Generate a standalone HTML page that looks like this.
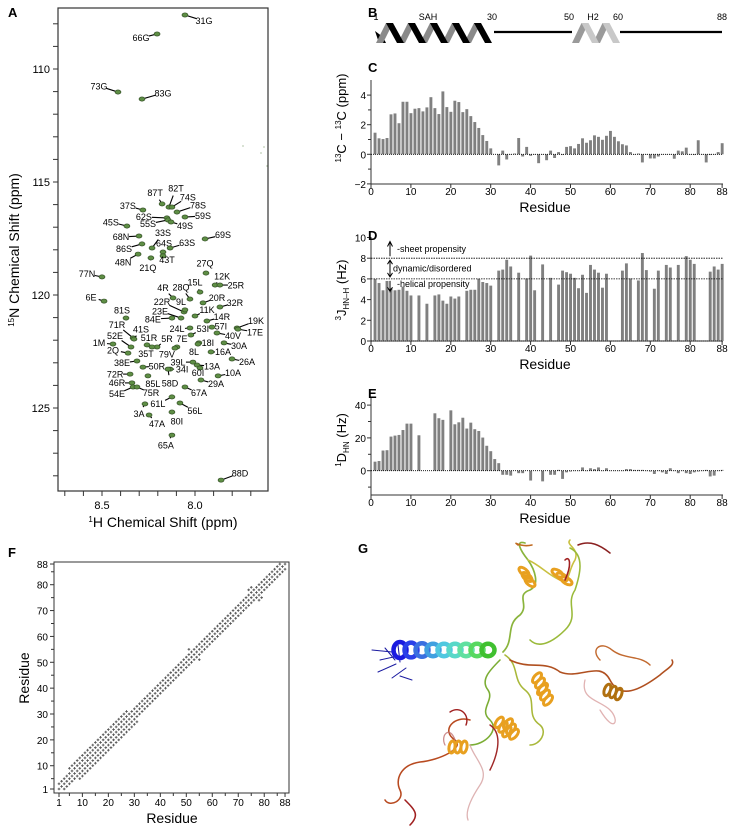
<!DOCTYPE html>
<html><head><meta charset="utf-8"><style>
html,body{margin:0;padding:0;background:#fff;}
svg{display:block;font-family:"Liberation Sans",Arial,sans-serif;}
</style></head><body>
<svg id="fig" width="729" height="829" viewBox="0 0 729 829" xmlns="http://www.w3.org/2000/svg">
<g id="panelA"></g>
<g id="panelB"></g>
<g id="panelC"></g>
<g id="panelD"></g>
<g id="panelE"></g>
<g id="panelF"></g>
<g id="panelG"></g>
</svg>
<script>
// ---------- DATA ----------
const residues = Array.from({length:88},(_,i)=>i+1);
const shiftValues = [1.46,1.08,1.03,1.1,2.7,2.76,2.1,3.55,3.55,2.78,3.08,3.12,2.9,3.17,3.86,3.12,2.72,4.25,3.19,2.87,3.62,3.53,2.85,3.05,2.58,2.18,1.78,1.3,0.9,0.4,null,-0.75,0.25,-0.35,0,0.05,1.1,-0.15,0.5,-0.1,0,-0.6,0,-0.4,0.25,-0.25,0.15,-0.05,0.5,0.55,0.4,0.7,1.08,0.78,0.95,1.28,1.18,0.98,1.25,1.58,1.18,0.88,0.68,0.6,0.15,0,0.05,-0.55,0,-0.28,-0.28,-0.15,0,0,0,-0.3,0.25,0.2,0.45,0,-0.05,0.95,0,-0.55,-0.05,0,0.15,0.75];
const jValues = [6.0,5.6,4.9,5.8,5.1,4.9,4.95,5.25,4.85,4.4,null,4.4,null,3.6,null,4.4,4.5,3.9,3.6,4.3,4.1,4.3,null,4.85,4.95,4.95,6.0,5.7,5.6,5.35,null,6.8,6.9,7.85,7.2,null,6.6,null,6.05,8.25,4.9,null,7.4,null,6.1,null,5.45,6.8,6.65,6.5,6.1,5.1,6.4,4.65,7.35,6.9,6.6,5.15,6.5,null,null,null,6.8,7.5,6.05,null,5.85,8.5,6.85,null,5.05,6.8,null,7.35,7.1,null,7.35,null,8.2,7.85,7.45,null,null,null,6.7,7.2,6.9,7.45];
const rdcValues = [5.5,5.9,12.3,12.5,20.8,21.4,21.8,24.8,28.7,28.7,null,21.6,null,null,null,35,32,31,null,36.8,28.3,29.5,32.3,25.7,29.3,25.3,24.2,20.2,15.2,11.9,7.1,4.6,-2.5,-2.5,-3,null,-1.5,-1.5,null,-6,null,null,-6.5,null,-2.5,-2.5,0.5,-5,-1,-0.5,0,0,2,0,1.5,1,2,0,1.5,0,0,0,0,1,1,0.5,0.5,0.5,0,-0.5,-2,0,-1,-2,1.5,0,-1.5,0,-1.5,-2,-1,-0.5,0,0.5,-3.5,-3,0,0.5];
const xTickLabels = [0,10,20,30,40,50,60,70,80,88];
const cTicks = [4,2,0,-2];
const dTicks = [0,2,4,6,8,10];
const eTicks = [40,20,0];
// HSQC peaks
const peakNames = ["31G","66G","73G","83G","37S","87T","82T","74S","78S","59S","62S","55S","49S","45S","68N","33S","69S","86S","64S","63S","48N","43T","21Q","27Q","77N","12K","25R","4R","28Q","15L","6E","20R","32R","22R","9L","11K","23E","14R","84E","81S","19K","57I","17E","71R","41S","24L","53I","40V","52E","51R","5R","7E","18I","30A","1M","2Q","35T","79V","8L","16A","26A","38E","39L","13A","50R","34I","60I","10A","72R","85L","58D","29A","46R","67A","54E","75R","61L","56L","3A","47A","80I","65A","88D"];
const peakH = [8.054,8.204,8.414,8.285,8.280,8.177,8.140,8.124,8.097,8.054,8.151,8.145,8.129,8.366,8.301,8.231,7.946,8.285,8.172,8.134,8.306,8.172,8.237,7.941,8.500,7.892,7.866,8.118,8.027,7.973,8.489,7.957,7.866,8.059,8.054,8.000,8.075,7.936,8.124,8.371,7.774,7.909,7.769,8.333,8.328,8.027,8.022,7.882,8.344,8.258,8.204,8.097,7.979,7.844,8.441,8.360,8.231,8.108,7.984,7.914,7.801,8.312,8.011,7.989,8.280,8.134,7.973,7.876,8.349,8.253,8.145,7.968,8.339,8.054,8.333,8.312,8.124,8.081,8.269,8.247,8.124,8.124,7.860];
const peakN = [107.61,108.45,111.02,111.33,116.24,115.97,116.11,116.11,116.33,116.55,116.59,116.68,116.77,116.95,117.39,117.92,117.52,117.74,118.10,117.92,118.19,118.27,118.36,119.03,119.20,119.56,119.56,120.13,120.18,119.87,120.27,120.35,120.53,120.75,120.66,120.93,121.02,121.15,121.02,121.02,121.46,121.42,121.51,121.90,121.95,121.46,121.77,121.68,122.30,122.21,122.30,122.30,122.12,122.12,122.17,122.57,122.30,122.35,122.17,122.52,122.83,122.92,122.97,123.10,123.19,123.28,123.23,123.58,123.50,123.58,123.28,123.76,123.89,124.07,124.07,124.07,124.51,124.78,124.82,125.31,125.18,126.20,128.19];
const labelOffsets = [[19,6],[-16,4],[-19,-6],[21,-6],[-15,-4],[-7,-11],[7,-19],[16,-10],[21,-7],[18,-1],[-23,-1],[-20,4],[14,4],[-16,-4],[-18,1],[11,-15],[18,-4],[-18,5],[1,-9],[17,-5],[-15,8],[4,4],[-3,10],[-1,-10],[-15,-3],[7,-9],[16,0],[-10,-10],[-9,-12],[-5,-10],[-13,-4],[14,-5],[15,-4],[-22,-10],[-4,-8],[12,-6],[-21,-7],[15,-4],[-19,1],[-4,-8],[19,-7],[9,-1],[17,3],[-16,-13],[7,-10],[-13,1],[12,-6],[16,3],[-16,-11],[2,-7],[10,-8],[5,-8],[9,0],[15,3],[-14,-1],[-15,-3],[-6,7],[-8,6],[-4,8],[12,0],[15,3],[-15,2],[-15,0],[15,1],[14,-1],[12,0],[-2,5],[15,-3],[-15,0],[5,8],[2,14],[15,4],[-15,0],[14,6],[-16,7],[14,6],[-14,7],[15,8],[-6,10],[8,9],[5,9],[-6,10],[19,-7]];
// contact map: band half-width per residue
const contactWidth = [2,2,3,3,4,4,5,5,5,5,4,4,4,4,4,4,4,4,4,4,4,4,4,4,5,5,5,5,5,5,4,3,2,2,2,2,2,2,2,2,2,3,3,3,3,2,2,2,2,3,4,4,4,4,4,3,3,3,3,3,3,2,2,2,2,2,2,2,2,2,3,3,3,4,5,5,5,5,4,3,2,2,2,2,2,2,2,2];

// ---------- HELPERS ----------
const NS="http://www.w3.org/2000/svg";
function mk(parent,tag,attrs,text){const e=document.createElementNS(NS,tag);for(const k in attrs)e.setAttribute(k,attrs[k]);if(text!==undefined)e.textContent=text;parent.appendChild(e);return e;}

const fig=document.getElementById('fig');
[["A",8,17],["B",368,17],["C",368,72],["D",368,240],["E",368,398],["F",8,557],["G",358,553]].forEach(p=>{
  const t=mk(fig,'text',{x:p[1],y:p[2],'font-size':13,'font-weight':'bold'},p[0]);
  
  
});

// ---------- PANEL A ----------
(function(){
  const g=document.getElementById('panelA');
  const xA=h=>102+(8.5-h)*186, yA=n=>69+(n-110)*22.6;
  const fr=mk(g,'rect',{x:58,y:8,width:210,height:483,fill:'none',stroke:'#333','stroke-width':1.2});
  
  for(let n=108;n<=128;n++){const y=yA(n);mk(g,'line',{x1:53,x2:58,y1:y,y2:y,stroke:'#333'});
    if(n%5===0){const t=mk(g,'text',{x:50,y:y+4,'font-size':11,'text-anchor':'end'},n);}}
  for(let k=0;k<=10;k++){const h=8.7-k*0.1;const x=xA(h);mk(g,'line',{x1:x,x2:x,y1:491,y2:496,stroke:'#333'});
    if(Math.abs(h-8.5)<1e-6||Math.abs(h-8.0)<1e-6){const t=mk(g,'text',{x:x,y:509,'font-size':11,'text-anchor':'middle'},h.toFixed(1));}}
  const xt=mk(g,'text',{x:163,y:527,'font-size':14,'text-anchor':'middle'});
  xt.innerHTML='<tspan font-size="8" dy="-5">1</tspan><tspan dy="5">H Chemical Shift (ppm)</tspan>';
  
  const yt=mk(g,'text',{x:0,y:0,'font-size':14,'text-anchor':'middle',transform:'translate(19,250) rotate(-90)'});
  yt.innerHTML='<tspan font-size="8" dy="-5">15</tspan><tspan dy="5">N Chemical Shift (ppm)</tspan>';
  
  [[243,146],[264,147],[261,153],[267,166]].forEach(p=>mk(g,'circle',{cx:p[0],cy:p[1],r:0.6,fill:'#7a9a6a'}));
  peakNames.forEach((nm,i)=>{
    const px=xA(peakH[i]),py=yA(peakN[i]);const o=labelOffsets[i];
    const len=Math.hypot(o[0],o[1]);
    if(len>9){const f=(len-8)/len;mk(g,'line',{x1:px,y1:py,x2:px+o[0]*f,y2:py+o[1]*f,stroke:'#000','stroke-width':1.1});}
    const pk=mk(g,'ellipse',{cx:px,cy:py,rx:3,ry:2.1,fill:'#5e8e45',stroke:'#2f4a22','stroke-width':0.6});
    
    const t=mk(g,'text',{x:px+o[0],y:py+o[1]+3.2,'font-size':9,'text-anchor':'middle'},nm);
    
  });
})();

// ---------- PANEL B ----------
(function(){
  const g=document.getElementById('panelB');
  [["1",376],["SAH",428],["30",492],["50",569],["H2",593],["60",618],["88",722]].forEach(l=>{
    const t=mk(g,'text',{x:l[1],y:20,'font-size':9,'text-anchor':'middle'},l[0]);
    });
  const ln=mk(g,'path',{d:'M494,32 L572,32 M620,32 L722,32',stroke:'#000','stroke-width':2.2,fill:'none'});
  
  function helix(x0,n,w,back,front,name){
    const hg=mk(g,'g',{});
    for(let k=0;k<n;k++){const x=x0+k*w;
      mk(hg,'path',{d:`M${x},43 L${x+7},43 L${x+w/2+6},23 L${x+w/2-1},23 Z`,fill:back});}
    for(let k=0;k<n;k++){const x=x0+k*w;
      mk(hg,'path',{d:`M${x+w/2-1},23 L${x+w/2+6},23 L${x+w+6},43 L${x+w-1},43 Z`,fill:front});}
  }
  mk(g,'path',{d:'M375,31 L383,37 L386,43 L379,43 Z',fill:'#000'});
  helix(376,5,22,'#8a8a8a','#000','sah-helix');
  helix(572,2,21,'#9a9a9a','#c8c8c8','h2-helix');
})();

// ---------- BAR CHART HELPER ----------
function barChart(gid,vals,yTop,y0,yBot,unitPx,ticks,minorTicks,xAxisY,tlY,resY,title){
  const g=document.getElementById(gid);
  const xR=r=>371+r*3.99, yV=v=>y0-v*unitPx;
  mk(g,'line',{x1:371,x2:371,y1:yTop,y2:yBot,stroke:'#333'});
  mk(g,'line',{x1:371,x2:723,y1:xAxisY,y2:xAxisY,stroke:'#333'});
  ticks.forEach(v=>{const y=yV(v);mk(g,'line',{x1:367,x2:371,y1:y,y2:y,stroke:'#333'});
    const t=mk(g,'text',{x:366,y:y+4,'font-size':10,'text-anchor':'end'},v<0?'\u2212'+(-v):v);
    });
  minorTicks.forEach(v=>{const y=yV(v);mk(g,'line',{x1:368,x2:371,y1:y,y2:y,stroke:'#333'});});
  xTickLabels.forEach(v=>{const x=xR(v);mk(g,'line',{x1:x,x2:x,y1:xAxisY,y2:xAxisY+4,stroke:'#333'});
    const t=mk(g,'text',{x:x,y:tlY,'font-size':10,'text-anchor':'middle'},v);
    });
  const rt=mk(g,'text',{x:545,y:resY,'font-size':14,'text-anchor':'middle'},'Residue');
  
  vals.forEach((v,i)=>{if(v===null)return;const r=residues[i];
    const y1=yV(Math.max(v,0)),y2=yV(Math.min(v,0));
    const b=mk(g,'rect',{x:xR(r)-1.4,y:y1,width:2.9,height:Math.max(y2-y1,0.4),fill:'#808080'});
    });
  const z=mk(g,'line',{x1:371,x2:723,y1:y0,y2:y0,stroke:'#000','stroke-width':0.8,'stroke-dasharray':'1,1'});
  
  const ytl=mk(g,'text',{x:0,y:0,'font-size':13,'text-anchor':'middle',transform:`translate(${title[1]},${title[2]}) rotate(-90)`});
  ytl.innerHTML=title[0];
  return {g,xR,yV};
}
barChart('panelC',shiftValues,80,154.3,184,14.8,cTicks,[3,1,-1],184,195,212,
  ['<tspan font-size="8" dy="-5">13</tspan><tspan dy="5">C \u2212 </tspan><tspan font-size="8" dy="-5">13</tspan><tspan dy="5">C  (ppm)</tspan>',346,118]);
const D=barChart('panelD',jValues,237,341,341,10.35,dTicks,[],341,352,369,
  ['<tspan font-size="8" dy="-5">3</tspan><tspan dy="5">J</tspan><tspan font-size="8" dy="3">HN\u2013H</tspan><tspan dy="-3">  (Hz)</tspan>',346,290]);
(function(){
  const g=D.g;
  [8,6].forEach(v=>{const l=mk(g,'line',{x1:371,x2:723,y1:D.yV(v),y2:D.yV(v),stroke:'#000','stroke-width':0.8,'stroke-dasharray':'1.5,1'});
    });
  const ax=390;
  const arr=mk(g,'path',{d:`M${ax},${D.yV(8)-2} L${ax},${D.yV(10)+5} M${ax-2.5},${D.yV(10)+9} L${ax},${D.yV(10)+4} L${ax+2.5},${D.yV(10)+9}
    M${ax},${D.yV(8)+2} L${ax},${D.yV(6)-2} M${ax-2.5},${D.yV(8)+6} L${ax},${D.yV(8)+2} L${ax+2.5},${D.yV(8)+6} M${ax-2.5},${D.yV(6)-6} L${ax},${D.yV(6)-2} L${ax+2.5},${D.yV(6)-6}
    M${ax},${D.yV(6)+2} L${ax},${D.yV(4.7)} M${ax-2.5},${D.yV(4.9)-3} L${ax},${D.yV(4.9)+1} L${ax+2.5},${D.yV(4.9)-3}`,stroke:'#000','stroke-width':1,fill:'none'});
  
  [["-sheet propensity",D.yV(8.9)+3,397],["dynamic/disordered",D.yV(7)+3,393],["-helical propensity",D.yV(5.5)+3,397]].forEach(a=>{
    const t=mk(g,'text',{x:a[2],y:a[1],'font-size':9},a[0]);});
})();
barChart('panelE',rdcValues,397,470.7,495,1.64,eTicks,[30,10,-10],495,506,523,
  ['<tspan font-size="8" dy="-5">1</tspan><tspan dy="5">D</tspan><tspan font-size="8" dy="3">HN</tspan><tspan dy="-3">  (Hz)</tspan>',346,440]);

// ---------- PANEL F ----------
(function(){
  const g=document.getElementById('panelF');
  const xF=r=>59+(r-1)*2.598, yF=r=>789-(r-1)*2.586;
  const fr=mk(g,'rect',{x:54,y:562,width:235,height:231,fill:'none',stroke:'#333'});
  
  const tk=[1,10,20,30,40,50,60,70,80,88];
  tk.forEach(v=>{
    mk(g,'line',{x1:xF(v),x2:xF(v),y1:793,y2:797,stroke:'#333'});
    mk(g,'line',{x1:50,x2:54,y1:yF(v),y2:yF(v),stroke:'#333'});
    const a=mk(g,'text',{x:xF(v),y:806,'font-size':10,'text-anchor':'middle'},v);
    const b=mk(g,'text',{x:48,y:yF(v)+4,'font-size':10,'text-anchor':'end'},v);
  });
  [5,15,25,35,45,55,65,75,85].forEach(v=>{mk(g,'line',{x1:xF(v),x2:xF(v),y1:793,y2:796,stroke:'#333'});mk(g,'line',{x1:51,x2:54,y1:yF(v),y2:yF(v),stroke:'#333'});});
  const xt=mk(g,'text',{x:172,y:823,'font-size':14,'text-anchor':'middle'},'Residue');
  const yt=mk(g,'text',{x:0,y:0,'font-size':14,'text-anchor':'middle',transform:'translate(29,678) rotate(-90)'},'Residue');
  let d='';
  residues.forEach((i,ii)=>{residues.forEach((j,jj)=>{
    const w=Math.min(contactWidth[ii],contactWidth[jj]);
    if(Math.abs(i-j)<=w && (i+j)%2===0){const x=xF(i),y=yF(j);d+=`M${x-1.3},${y}h2.6M${x},${y-1.3}v2.6`;}
  });});
  const c=mk(g,'path',{d:d,stroke:'#555','stroke-width':0.9,fill:'none'});
  
})();

// ---------- PANEL G ----------
(function(){
  const g=document.getElementById('panelG');
  function p(d,col,w,name,op){const e=mk(g,'path',{d:d,stroke:col,'stroke-width':w*1.3,fill:'none','stroke-linecap':'round','stroke-linejoin':'round',opacity:op||1});
    }
  p('M503,652 C515,640 505,625 520,615 C530,605 515,595 530,590 C540,585 535,570 528,560 C520,550 515,540 525,543','#8ab43c',1.3,'coil-green-up');
  p('M528,560 C540,565 548,575 560,580 C570,585 568,570 575,560 C580,548 565,545 570,540','#c9c040',1.2,'coil-yellow-top');
  p('M532,545 C520,548 512,540 518,545','#c06a20',1.2,'coil-top-orange');
  p('M570,548 C585,555 580,575 575,590 C565,605 580,615 565,630 C555,640 540,650 530,640','#9aba3a',1.2,'coil-green-right');
  p('M500,660 C490,670 480,680 488,690 C495,700 478,710 490,720 C500,730 485,745 470,745','#7bad34',1.2,'coil-green-down');
  p('M505,655 C520,665 512,680 525,690 C538,700 525,715 540,725 C548,732 540,745 530,745','#a9b83a',1.2,'coil-yellow-down');
  p('M510,660 C530,670 545,660 560,672 C580,680 600,660 610,680 C620,700 640,690 660,675 C668,668 675,665 672,660','#b05020',1.2,'coil-right-red');
  p('M600,660 C590,650 600,640 612,650 C625,660 640,655 650,665','#c26a30',1.1,'coil-right-orange');
  p('M585,680 C580,700 600,700 610,710 C620,720 615,735 600,710','#d9a0a0',1.0,'coil-pink-right',0.8);
  p('M470,720 C455,715 440,730 455,740 C465,748 440,760 420,762 C400,765 395,780 400,790 C405,800 390,808 385,800','#b84a20',1.2,'coil-bottom-left');
  p('M405,800 C415,810 420,815 410,825','#a02020',1.2,'coil-red-tail');
  p('M470,745 C475,760 490,770 480,785 C470,800 465,812 468,820','#d6a0a0',1.0,'coil-pink-bottom',0.8);
  p('M455,740 C450,725 440,735 445,745','#c07070',1.0,'coil-pink-loop',0.8);
  p('M490,725 C505,735 495,760 490,770','#a02828',1.1,'coil-red-mid');
  p('M578,545 C590,540 600,545 610,553','#8a2020',1.2,'coil-red-topright');
  p('M450,712 C460,705 470,715 466,725','#a02020',1.1,'coil-red-small');
  p('M372,650 L392,652 M380,660 L398,656 M378,672 L396,664 M392,678 L406,668 M400,676 L412,680 M385,648 L395,660 M398,645 L400,662','#1a1aa0',0.8,'n-terminal-tangle');
  const cols=['#1a1ae0','#2a40e8','#3a70e0','#40a0e0','#50c8e0','#58d8c8','#60e0a0','#58d860','#40c030'];
  cols.forEach((c,i)=>{const x=400+i*11;const e=mk(g,'ellipse',{cx:x,cy:650,rx:6.5,ry:8-Math.min(i,3)*0.6,fill:'none',stroke:c,'stroke-width':4.5});
    });
  [[527,577,-70],[562,577,-80],[540,683,20],[545,695,20],[613,692,0],[503,727,15],[458,747,-10],[511,729,20]].forEach((h,i)=>{
    for(let k=0;k<3;k++){const e=mk(g,'ellipse',{cx:h[0]+Math.cos(h[2]*Math.PI/180)*(k-1)*6,cy:h[1]+Math.sin(h[2]*Math.PI/180)*(k-1)*6,rx:3,ry:6,fill:'none',stroke:i===4?'#b07010':'#e8a020','stroke-width':3,transform:`rotate(${h[2]+20} ${h[0]} ${h[1]})`});
      }
  });
  p('M565,580 C572,565 570,555 565,560','#a02020',1.2,'coil-red-top-loop');
})();
</script>
</body></html>
